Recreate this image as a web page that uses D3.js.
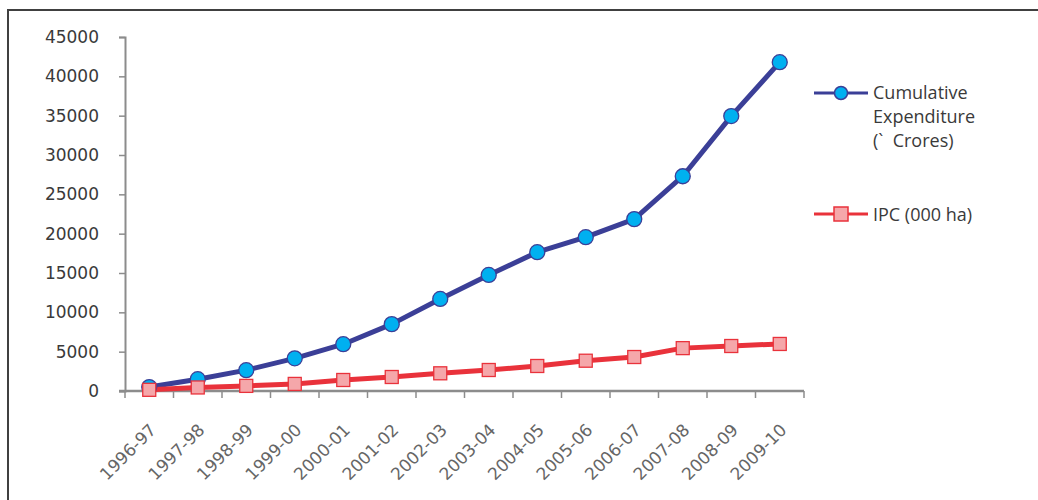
<!DOCTYPE html>
<html>
<head>
<meta charset="utf-8">
<script src="https://cdn.jsdelivr.net/npm/d3@7"></script>
<style>
  body { margin: 0; background: #fff; }
  svg { display: block; }
</style>
</head>
<body>
<svg id="chart" width="1038" height="500"></svg>
<script>
// data
var years = ['1996-97','1997-98','1998-99','1999-00','2000-01','2001-02','2002-03',
             '2003-04','2004-05','2005-06','2006-07','2007-08','2008-09','2009-10'];
var expenditure = [500, 1500, 2650, 4150, 5950, 8500, 11700, 14750, 17650, 19550, 21850, 27300, 34950, 41800];
var ipc = [150, 450, 650, 900, 1400, 1780, 2250, 2670, 3180, 3850, 4320, 5450, 5720, 5980];
var yTicks = [0, 5000, 10000, 15000, 20000, 25000, 30000, 35000, 40000, 45000];

var blue = '#3b3f97', cyan = '#00b0f0';
var red = '#e9323b', pink = '#f5a7aa';
var axisCol = '#8c8c8c';

var svg = d3.select('#chart');

// frame (only top and left edges show)
svg.append('path')
	.attr('d', 'M8,500V10H1038')
	.attr('fill', 'none')
	.attr('stroke', '#404040')
	.attr('stroke-width', 2);

var x = d3.scaleBand().domain(years).range([125, 804]).padding(0);
var y = d3.scaleLinear().domain([0, 45000]).range([391, 37]);

function cx(d, i) { return x(years[i]) + x.bandwidth() / 2; }

// y axis
var yAxis = svg.append('g')
	.attr('transform', 'translate(125,0)')
	.call(d3.axisLeft(y).tickValues(yTicks).tickSize(6).tickPadding(20).tickFormat(d3.format('d')));
yAxis.select('.domain').attr('stroke', axisCol).attr('stroke-width', 2);
yAxis.selectAll('.tick line').attr('stroke', axisCol).attr('stroke-width', 1.5);
yAxis.selectAll('text')
	.attr('font-family', 'DejaVu Sans, Verdana, sans-serif')
	.attr('font-size', 17)
	.attr('fill', '#3a3a3a');

// x axis, ticks on band edges
var xAxis = svg.append('g').attr('transform', 'translate(0,391)');
xAxis.append('line')
	.attr('x1', 119).attr('x2', 804)
	.attr('stroke', axisCol).attr('stroke-width', 2.5);
xAxis.selectAll('line.tk')
	.data(years.concat(['end']))
	.join('line')
	.attr('class', 'tk')
	.attr('x1', (d, i) => i < years.length ? x(d) : x.range()[1])
	.attr('x2', (d, i) => i < years.length ? x(d) : x.range()[1])
	.attr('y1', 0).attr('y2', 7)
	.attr('stroke', axisCol).attr('stroke-width', 1.5);
xAxis.selectAll('text')
	.data(years)
	.join('text')
	.attr('transform', d => 'translate(' + (x(d) + x.bandwidth() / 2 + 8) + ',40) rotate(-45)')
	.attr('text-anchor', 'end')
	.attr('font-family', 'DejaVu Sans, Verdana, sans-serif')
	.attr('font-size', 17)
	.attr('fill', '#666')
	.text(d => d);

// series lines
var line = d3.line().x(cx).y(d => y(d));

svg.append('path')
	.datum(expenditure)
	.attr('d', line)
	.attr('fill', 'none')
	.attr('stroke', blue)
	.attr('stroke-width', 5)
	.attr('stroke-linejoin', 'round');

svg.append('path')
	.datum(ipc)
	.attr('d', line)
	.attr('fill', 'none')
	.attr('stroke', red)
	.attr('stroke-width', 5)
	.attr('stroke-linejoin', 'round');

// markers
svg.append('g').selectAll('circle')
	.data(expenditure)
	.join('circle')
	.attr('cx', cx)
	.attr('cy', d => y(d))
	.attr('r', 7.5)
	.attr('fill', cyan)
	.attr('stroke', blue)
	.attr('stroke-width', 1.3);

var sq = 13;
svg.append('g').selectAll('rect')
	.data(ipc)
	.join('rect')
	.attr('x', (d, i) => cx(d, i) - sq / 2)
	.attr('y', d => y(d) - sq / 2)
	.attr('width', sq).attr('height', sq)
	.attr('fill', pink)
	.attr('stroke', red)
	.attr('stroke-width', 1.3);

// legend
var legFont = 'Open Sans, Noto Sans, sans-serif';
var leg = svg.append('g');

leg.append('line').attr('x1', 814).attr('x2', 868).attr('y1', 93).attr('y2', 93)
	.attr('stroke', blue).attr('stroke-width', 3);
leg.append('circle').attr('cx', 841).attr('cy', 93).attr('r', 6.5)
	.attr('fill', cyan).attr('stroke', blue).attr('stroke-width', 1.5);
leg.append('text')
	.attr('x', 873).attr('y', 99)
	.attr('font-family', legFont).attr('font-size', 18)
	.attr('fill', '#3a3a3a')
	.selectAll('tspan')
	.data(['Cumulative', 'Expenditure', '(`  Crores)'])
	.join('tspan')
	.attr('x', 873)
	.attr('dy', (d, i) => i ? 24 : 0)
	.attr('xml:space', 'preserve')
	.text(d => d);

leg.append('line').attr('x1', 814).attr('x2', 868).attr('y1', 214).attr('y2', 214)
	.attr('stroke', red).attr('stroke-width', 3);
leg.append('rect').attr('x', 834).attr('y', 207).attr('width', 14).attr('height', 14)
	.attr('fill', pink).attr('stroke', red).attr('stroke-width', 1.5);
leg.append('text')
	.attr('x', 873).attr('y', 221)
	.attr('font-family', legFont).attr('font-size', 18)
	.attr('fill', '#3a3a3a')
	.text('IPC (000 ha)');
</script>
</body>
</html>
